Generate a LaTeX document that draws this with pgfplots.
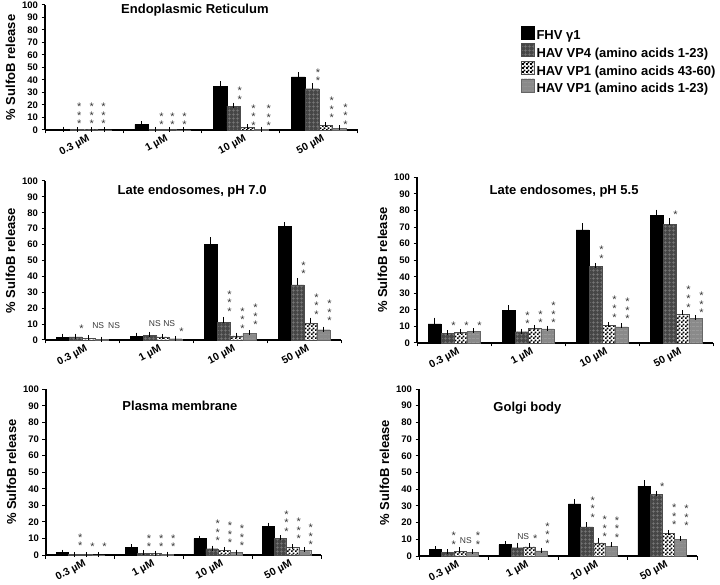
\documentclass[border=0pt]{standalone}
\usepackage{fontspec}
\setmainfont{Liberation Sans}
\usepackage{pgfplots}
\pgfplotsset{compat=1.18}
\usepackage{pgfplotstable}
\usetikzlibrary{patterns}

\definecolor{vpfour}{HTML}{464646}
\definecolor{vpfourline}{HTML}{7A7A7A}
\definecolor{vpb}{HTML}{8A8A8A}
\definecolor{vpbline}{HTML}{A2A2A2}
\definecolor{stargray}{HTML}{383838}

\pgfdeclarepatternformonly{plaid}{\pgfpointorigin}{\pgfpoint{4pt}{4pt}}{\pgfpoint{4pt}{4pt}}{%
  \pgfsetlinewidth{0.5pt}%
  \pgfpathmoveto{\pgfpoint{0pt}{2pt}}\pgfpathlineto{\pgfpoint{4pt}{2pt}}%
  \pgfpathmoveto{\pgfpoint{2pt}{0pt}}\pgfpathlineto{\pgfpoint{2pt}{4pt}}%
  \pgfusepath{stroke}}
\pgfdeclarepatternformonly{hlines}{\pgfpointorigin}{\pgfpoint{4pt}{4pt}}{\pgfpoint{4pt}{4pt}}{%
  \pgfsetlinewidth{0.4pt}%
  \pgfpathmoveto{\pgfpoint{0pt}{2pt}}\pgfpathlineto{\pgfpoint{4pt}{2pt}}%
  \pgfusepath{stroke}}
\pgfdeclarepatternformonly{smallchecker}{\pgfpointorigin}{\pgfpoint{3.6pt}{3.6pt}}{\pgfpoint{3.6pt}{3.6pt}}{%
  \pgfpathrectangle{\pgfpointorigin}{\pgfpoint{1.85pt}{1.85pt}}%
  \pgfpathrectangle{\pgfpoint{1.8pt}{1.8pt}}{\pgfpoint{1.85pt}{1.85pt}}%
  \pgfusepath{fill}}

% significance labels: a = *, b = **, c = ***, n = NS
\def\laba{*}
\def\labb{*\\{}*}
\def\labc{*\\{}*\\{}*}
\def\labn{\raisebox{3.4pt}{\fontsize{8.5}{9}\selectfont NS}}

% ---------------- data (x = concentration group) ----------------
\pgfplotstableread{
x F Fe V Ve A Ae B Be
0 0.5 0.2 0.3 0 0.2 0 0.1 0
1 4.5 0.5 0.5 0 0.5 0 0.1 0
2 35 2 19 0.8 2 0.4 0.5 0
3 42.5 1.5 33 2.5 3.7 0.5 1.5 0.3
}\ER
\pgfplotstableread{
x Vy Vl Vd Ay Al Ad By Bl Bd
0 6.6 c -0.05 6.6 c -0.065 6.6 c -0.09
1 6 b 0 6 b -0.035 6 b -0.057
2 26.4 b 0 5.6 c 0 5.3 c 0.02
3 41.3 b 0 11.7 c 0 6.4 c 0
}\ERl

\pgfplotstableread{
x F Fe V Ve A Ae B Be
0 1.5 1 2 0.5 1.2 0.3 0.5 0.1
1 2.5 0.5 3 0.5 2 0.3 0.8 0.2
2 60.3 2.8 11 2 2.7 0.3 4.2 0.3
3 71.5 1 34.7 2.5 10.5 2 6.5 0.3
}\LEa
\pgfplotstableread{
x Vy Vl Vd Ay Al Ad By Bl Bd
0 8.8 a 0 8.8 n 0.05 8.8 n 0.09
1 10 n -0.01 10 n 0.01 6.7 a 0
2 19.5 c 0 8.8 c 0 10.9 c 0
3 42.9 b 0 17.6 c 0 13.6 c 0
}\LEal

\pgfplotstableread{
x F Fe V Ve A Ae B Be
0 11.6 2.2 6 0.3 6.5 0.4 7 0.4
1 19.7 1.5 6.8 0.3 9 0.4 8.5 0.5
2 68.3 2.4 46.2 0.6 10.6 0.4 9.8 0.5
3 77.1 2 71.5 2.5 17.3 1 14.9 0.5
}\LEb
\pgfplotstableread{
x Vy Vl Vd Ay Al Ad By Bl Bd
0 12 a 0 12 a 0 12 a 0
1 13 b 0 13.5 b 0 13.5 c 0
2 52.6 b 0 17 c 0 16 c 0
3 78.7 a 0 23 c 0 19.7 c 0
}\LEbl

\pgfplotstableread{
x F Fe V Ve A Ae B Be
0 1.5 0.3 0.3 0 0.3 0 0.1 0
1 4.6 0.3 1.2 0.2 1 0.1 0.5 0.1
2 9.9 0.3 3.8 0.3 3 0.3 1.6 0.2
3 17.5 0.5 10 0.4 4.8 0.3 2.8 0.3
}\PM
\pgfplotstableread{
x Vy Vl Vd Ay Al Ad By Bl Bd
0 7 b 0 6.4 a 0 6.4 a 0
1 6.4 b 0 6.4 b 0 6.4 b 0
2 10 c 0 8.7 c 0 6.8 c 0
3 15.5 c 0 11 c 0 7.6 c 0
}\PMl

\pgfplotstableread{
x F Fe V Ve A Ae B Be
0 3.8 0.4 2.2 0.4 2.8 0.8 2.2 0.3
1 6.8 0.4 5 1.5 5.4 0.8 3 0.4
2 31.2 1.5 17.4 1.3 7.8 1.5 5.8 0.9
3 41.8 2 36.8 0.8 13.4 0.7 9.8 0.5
}\GB
\pgfplotstableread{
x Vy Vl Vd Ay Al Ad By Bl Bd
0 8.4 b 0 9 n 0 8.4 b 0
1 11.8 n 0 11.8 a 0 9 c 0
2 24.4 c 0 12.8 c 0 12.4 c 0
3 43 a 0 20 c 0 19.4 c 0
}\GBl

\pgfplotsset{
  errs/.style={error bars/.cd, y dir=plus, y explicit,
    error bar style={line width=0.7pt, black, solid},
    error mark options={mark size=2.5pt, line width=0.7pt, black}},
  s1/.style={fill=black, draw=black, bar width=0.175, bar shift=-0.2625, errs},
  s2/.style={fill=vpfour, draw=black!70, line width=0.3pt,
    postaction={pattern=plaid, pattern color=vpfourline},
    bar width=0.175, bar shift=-0.0875, errs},
  s3/.style={fill=white, draw=black!70, line width=0.3pt,
    postaction={pattern=smallchecker, pattern color=black},
    bar width=0.175, bar shift=0.0875, errs},
  s4/.style={fill=vpb, draw=black!60, line width=0.3pt,
    postaction={pattern=hlines, pattern color=vpbline},
    bar width=0.175, bar shift=0.2625, errs},
  lab/.style={only marks, mark=none, nodes near coords={\csname lab\pgfplotspointmeta\endcsname},
    point meta=explicit symbolic,
    nodes near coords style={anchor=south, inner sep=0pt, yshift=-6.4pt, align=center,
      font=\fontsize{11}{6.8}\selectfont, text=stargray}},
  panel/.style={scale only axis, anchor=south west, clip=false, ybar,
    xmin=-0.5, xmax=3.5, ymin=0, ymax=100,
    axis x line*=bottom, axis y line*=left,
    axis line style={line width=1.3pt},
    x axis line style={-}, y axis line style={-},
    tick align=outside, major tick length=3.5pt,
    tick style={line width=1pt, black},
    ytick={0,10,...,100},
    xtick={-0.5,0.5,1.5,2.5,3.5}, xticklabels={,,,,},
    extra x ticks={0,1,2,3},
    extra x tick labels={0.3 µM,1 µM,10 µM,50 µM},
    extra x tick style={major tick length=0pt},
    /pgf/number format/assume math mode=true,
    y tick label style={font=\bfseries\fontsize{9.5}{11}\selectfont},
    x tick label style={font=\bfseries\fontsize{10.5}{12}\selectfont, rotate=28, anchor=north east, xshift=4pt, yshift=-1pt},
    ylabel={\% SulfoB release},
    ylabel style={font=\bfseries\fontsize{13}{15}\selectfont},
    title style={font=\bfseries\fontsize{13}{15}\selectfont, anchor=center, yshift=-6pt},
  },
}

\newcommand{\drawbars}[2]{%
  \addplot[s1] table[x=x, y=F, y error=Fe] {#1};
  \addplot[s2] table[x=x, y=V, y error=Ve] {#1};
  \addplot[s3] table[x=x, y=A, y error=Ae] {#1};
  \addplot[s4] table[x=x, y=B, y error=Be] {#1};
  \addplot[lab, forget plot] table[x expr=\thisrow{x}-0.0875+\thisrow{Vd}, y=Vy, meta=Vl] {#2};
  \addplot[lab, forget plot] table[x expr=\thisrow{x}+0.0875+\thisrow{Ad}, y=Ay, meta=Al] {#2};
  \addplot[lab, forget plot] table[x expr=\thisrow{x}+0.2625+\thisrow{Bd}, y=By, meta=Bl] {#2};
}

\begin{document}
\begin{tikzpicture}
\useasboundingbox (0pt,0pt) rectangle (720pt,584pt);

% Endoplasmic Reticulum + legend
\begin{axis}[panel, at={(45pt,454pt)}, width=313pt, height=125pt,
  title={Endoplasmic Reticulum},
  title style={at={(axis description cs:0.479,0.96)}},
  legend entries={FHV γ1, HAV VP4 (amino acids 1-23), HAV VP1 (amino acids 43-60), HAV VP1 (amino acids 1-23)},
  legend image code/.code={\path[#1] (-4pt,-3pt) rectangle (9pt,10pt);},
  legend style={at={(1.511,0.85)}, anchor=north west, draw=none, fill=none,
    font=\bfseries\fontsize{13}{15}\selectfont, row sep=0pt},
  legend cell align=left]
\drawbars{\ER}{\ERl}
\end{axis}

% Late endosomes pH 7.0
\begin{axis}[panel, at={(45pt,244pt)}, width=296pt, height=159pt,
  title={Late endosomes, pH 7.0},
  title style={at={(axis description cs:0.497,0.937)}}]
\drawbars{\LEa}{\LEal}
\end{axis}

% Late endosomes pH 5.5
\begin{axis}[panel, at={(417pt,241pt)}, width=296pt, height=165.6pt,
  title={Late endosomes, pH 5.5},
  title style={at={(axis description cs:0.497,0.918)}}]
\drawbars{\LEb}{\LEbl}
\end{axis}

% Plasma membrane
\begin{axis}[panel, at={(46pt,29pt)}, width=275pt, height=165.6pt,
  title={Plasma membrane},
  title style={at={(axis description cs:0.487,0.9)}}]
\drawbars{\PM}{\PMl}
\end{axis}

% Golgi body
\begin{axis}[panel, at={(419pt,28pt)}, width=278pt, height=167pt,
  title={Golgi body},
  title style={at={(axis description cs:0.39,0.886)}}]
\drawbars{\GB}{\GBl}
\end{axis}
\end{tikzpicture}
\end{document}
